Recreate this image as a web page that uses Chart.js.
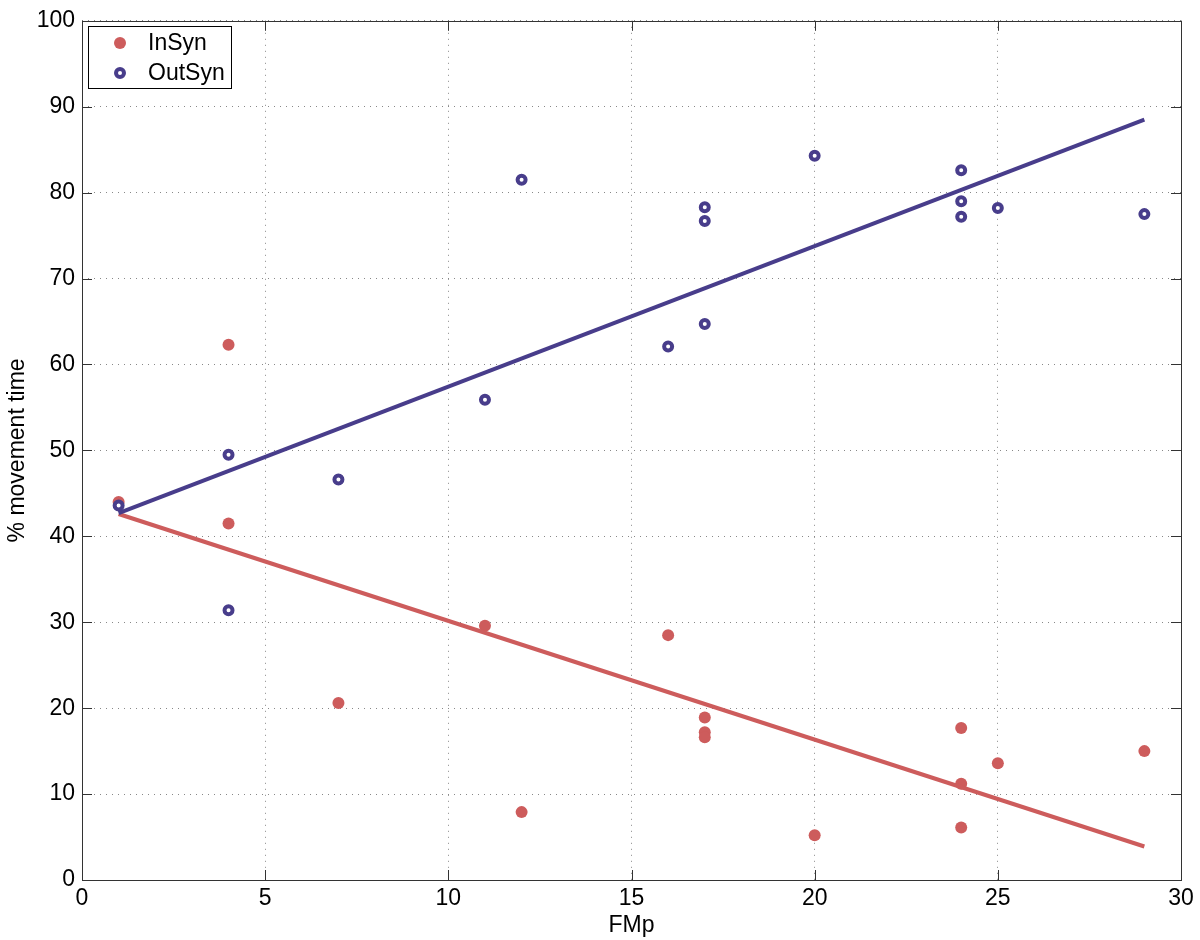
<!DOCTYPE html>
<html><head><meta charset="utf-8">
<script src="https://cdn.jsdelivr.net/npm/chart.js@4/dist/chart.umd.min.js"></script>
<style>html,body{margin:0;padding:0;background:#fff}#wrap{width:1200px;height:940px}</style>
</head><body><div id="wrap"><canvas id="c" width="1200" height="940"></canvas></div>
<script>
const inSynX  = [1, 4, 4, 7, 11, 12, 16, 17, 17, 17, 20, 24, 24, 24, 25, 29];
const inSynY  = [44.0, 62.3, 41.5, 20.6, 29.6, 7.9, 28.5, 18.9, 17.2, 16.6, 5.2, 17.7, 11.2, 6.1, 13.6, 15.0];
const outSynX = [1, 4, 4, 7, 11, 12, 16, 17, 17, 17, 20, 24, 24, 24, 25, 29];
const outSynY = [43.6, 49.5, 31.4, 46.6, 55.9, 81.5, 62.1, 78.3, 76.7, 64.7, 84.3, 82.6, 79.0, 77.2, 78.2, 77.5];
const inFitX  = [1, 29];
const inFitY  = [42.6, 3.9];
const outFitX = [1, 29];
const outFitY = [42.7, 88.5];
const xTicks = [0, 5, 10, 15, 20, 25, 30];
const yTicks = [0, 10, 20, 30, 40, 50, 60, 70, 80, 90, 100];
const seriesNames = ['InSyn', 'OutSyn'];
const axisTitles = {x: 'FMp', y: '% movement time'};

const RED = '#cd5c5c', BLUE = '#483d8b';
const FONT = '"Liberation Sans", Arial, sans-serif';
const FS = 23;
const pts = (xs, ys) => xs.map((x, i) => ({x, y: ys[i]}));

const framePlugin = {
  id: 'frame',
  afterDraw(chart) {
    const {ctx, chartArea: a, scales} = chart;
    ctx.save();
    ctx.strokeStyle = '#333';
    ctx.lineWidth = 1;
    const L = 10;
    ctx.beginPath();
    xTicks.forEach(v => {
      const px = Math.round(scales.x.getPixelForValue(v)) + 0.5;
      ctx.moveTo(px, a.bottom); ctx.lineTo(px, a.bottom - L);
      ctx.moveTo(px, a.top); ctx.lineTo(px, a.top + L);
    });
    yTicks.forEach(v => {
      const py = Math.round(scales.y.getPixelForValue(v)) + 0.5;
      ctx.moveTo(a.left, py); ctx.lineTo(a.left + L, py);
      ctx.moveTo(a.right, py); ctx.lineTo(a.right - L, py);
    });
    ctx.stroke();
    ctx.strokeRect(Math.round(a.left) + 0.5, Math.round(a.top) + 0.5, Math.round(a.right - a.left), Math.round(a.bottom - a.top));

    // legend
    const bx = 88.5, by = 26.5, bw = 143, bh = 62;
    ctx.fillStyle = '#fff';
    ctx.fillRect(bx, by, bw, bh);
    ctx.strokeStyle = '#000';
    ctx.strokeRect(bx, by, bw, bh);
    ctx.fillStyle = RED;
    ctx.beginPath(); ctx.arc(120, 43, 6, 0, Math.PI * 2); ctx.fill();
    ctx.strokeStyle = BLUE; ctx.lineWidth = 4; ctx.fillStyle = '#fff';
    ctx.beginPath(); ctx.arc(120, 73, 4, 0, Math.PI * 2); ctx.fill(); ctx.stroke();
    ctx.fillStyle = '#000';
    ctx.font = FS + 'px ' + FONT;
    ctx.textBaseline = 'middle';
    ctx.textAlign = 'left';
    ctx.fillText(seriesNames[0], 148, 44);
    ctx.fillText(seriesNames[1], 148, 74);
    ctx.restore();
  }
};

new Chart(document.getElementById('c'), {
  type: 'scatter',
  data: {
    datasets: [
      {label: seriesNames[0], data: pts(inSynX, inSynY), backgroundColor: RED, borderColor: RED, borderWidth: 0, pointRadius: 6, pointHoverRadius: 6, order: 3},
      {label: seriesNames[1], data: pts(outSynX, outSynY), backgroundColor: '#fff', borderColor: BLUE, borderWidth: 4, pointRadius: 4, pointHoverRadius: 4, order: 2},
      {type: 'line', label: 'InSyn fit', data: pts(inFitX, inFitY), borderColor: RED, borderWidth: 4, pointRadius: 0, fill: false, order: 1},
      {type: 'line', label: 'OutSyn fit', data: pts(outFitX, outFitY), borderColor: BLUE, borderWidth: 4, pointRadius: 0, fill: false, order: 0}
    ]
  },
  options: {
    responsive: false,
    devicePixelRatio: 1,
    animation: false,
    layout: {padding: {left: 0, top: 19, right: 19, bottom: 0}},
    plugins: {legend: {display: false}, tooltip: {enabled: false}},
    scales: {
      x: {
        type: 'linear', min: 0, max: 30,
        afterBuildTicks: s => { s.ticks = xTicks.map(v => ({value: v})); },
        afterFit: s => { s.height = 60; },
        ticks: {color: '#000', font: {family: FONT, size: FS}, padding: 5, maxRotation: 0},
        grid: {color: '#888', drawTicks: false, lineWidth: 1},
        border: {display: false, dash: [1, 5]},
        title: {display: true, text: axisTitles.x, color: '#000', font: {family: FONT, size: FS}, padding: {top: 0, bottom: 1}}
      },
      y: {
        type: 'linear', min: 0, max: 100,
        afterBuildTicks: s => { s.ticks = yTicks.map(v => ({value: v})); },
        afterFit: s => { s.width = 82; },
        ticks: {color: '#000', font: {family: FONT, size: FS}, padding: 7},
        grid: {color: '#888', drawTicks: false, lineWidth: 1},
        border: {display: false, dash: [1, 5]},
        title: {display: true, text: axisTitles.y, color: '#000', font: {family: FONT, size: FS}, padding: {top: 4, bottom: 0}}
      }
    }
  },
  plugins: [framePlugin]
});
</script>
</body></html>
